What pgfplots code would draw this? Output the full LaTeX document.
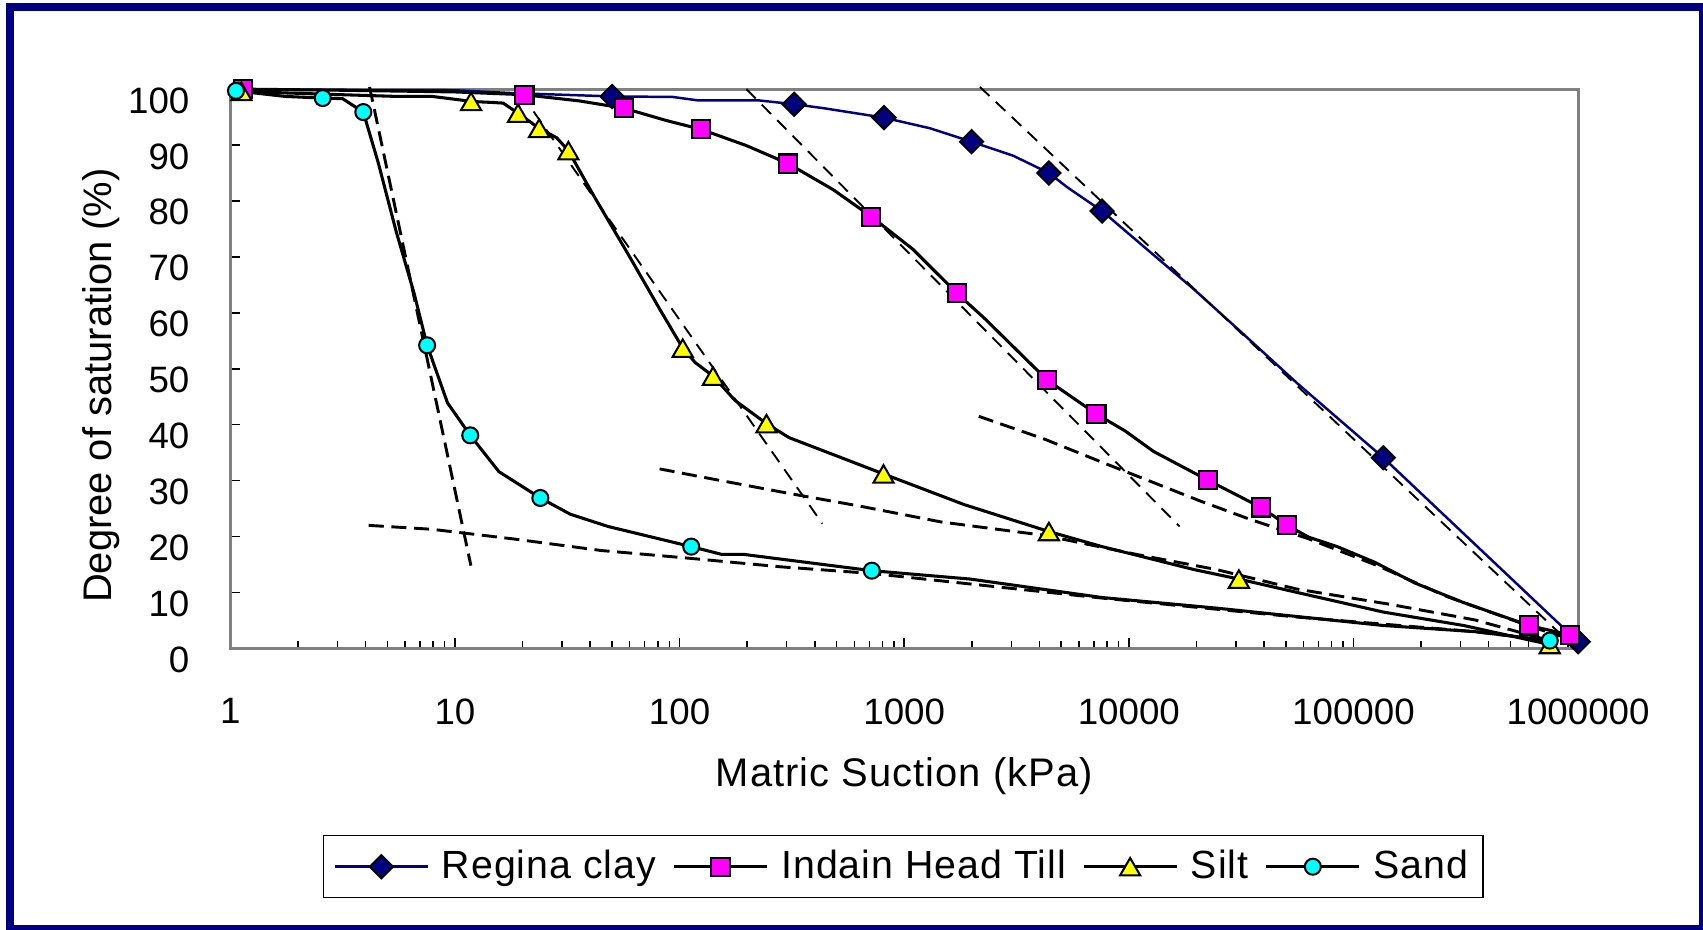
\documentclass[border=0pt]{standalone}
\usepackage{fontspec}
\setmainfont{Liberation Sans}
\usepackage{pgfplots}
\pgfplotsset{compat=1.18}

\definecolor{navy}{HTML}{000080}
\definecolor{axisgray}{HTML}{808080}
\definecolor{mag}{HTML}{FF00FF}
\definecolor{yel}{HTML}{FFFF00}
\definecolor{cya}{HTML}{00FFFF}

\pgfplotsset{
  curve/.style={black, line width=1.05pt, no marks, forget plot},
  thickdash/.style={black, line width=1pt, dash pattern=on 5.2pt off 2.6pt, no marks, forget plot},
  thindash/.style={black, line width=0.65pt, dash pattern=on 4.5pt off 3pt, no marks, forget plot},
  reginamk/.style={mark=square*, mark size=2.8pt, mark options={solid, rotate=45, fill=navy, draw=black, line width=0.7pt}},
  tillmk/.style={mark=square*, mark size=3.1pt, mark options={solid, fill=mag, draw=black, line width=0.7pt}},
  siltmk/.style={mark=triangle*, mark size=4pt, mark options={solid, yshift=-1pt, fill=yel, draw=black, line width=0.7pt}},
  sandmk/.style={mark=*, mark size=2.75pt, mark options={solid, fill=cya, draw=black, line width=0.7pt}},
}

\begin{document}
\begin{tikzpicture}
\useasboundingbox (-79.06pt,-96.33pt) rectangle (505.58pt,222.60pt);
\draw[navy, line width=2.75pt] (-75.63pt,-96.33pt) rectangle (505.58pt,220.12pt);

\begin{axis}[
    width=462.7pt, height=192pt, scale only axis,
    xmode=log,
    xmin=1, xmax=1000000, ymin=0, ymax=100,
    clip=false,
    xtick={1,10,100,1000,10000,100000,1000000},
    xticklabels={1,10,100,1000,10000,100000,1000000},
    minor xtick={2,3,4,5,6,7,8,9,20,30,40,50,60,70,80,90,
      200,300,400,500,600,700,800,900,2000,3000,4000,5000,6000,7000,8000,9000,
      20000,30000,40000,50000,60000,70000,80000,90000,
      200000,300000,400000,500000,600000,700000,800000,900000},
    ytick={0,10,20,30,40,50,60,70,80,90,100},
    yticklabels={0,10,20,30,40,50,60,70,80,90,100},
    tick align=inside, tick pos=left,
    major tick length=3.43pt, minor tick length=2.4pt,
    tick style={black, line width=0.5pt},
    axis line style={draw=axisgray, line width=1pt},
    ticklabel style={font=\fontsize{12.6}{14}\selectfont, inner sep=0pt},
    xticklabel style={anchor=north, yshift=-17pt},
    yticklabel style={anchor=east, xshift=-13.84pt, yshift=-3.9pt},
    xlabel={Matric Suction (kPa)},
    xlabel style={at={(axis description cs:0.5,-0.2473)}, anchor=base, inner sep=0pt,
      font=\fontsize{13.7}{16}\selectfont\addfontfeatures{LetterSpace=2.6}},
    ylabel={Degree of saturation (\%)},
    ylabel style={at={(axis description cs:-0.0958,0.470)}, anchor=center, inner sep=0pt,
      font=\fontsize{13.7}{16}\selectfont},
    legend columns=4,
    legend style={at={(axis description cs:0.4994,-0.3903)}, anchor=center,
      draw=black, line width=0.5pt, inner sep=3.4pt,
      font=\fontsize{13.5}{15}\selectfont\addfontfeatures{LetterSpace=2.5},
      nodes={inner sep=1.6pt},
      /tikz/every odd column/.append style={column sep=2.8pt},
      /tikz/every even column/.append style={column sep=4pt}},
    legend image code/.code={
      \draw[mark repeat=2, mark phase=2, #1] plot coordinates {(0pt,0pt) (15.95pt,0pt) (31.9pt,0pt)};
    },
  ]

% Regina clay
\addplot[navy, line width=0.85pt, no marks, forget plot] coordinates {
  (1,99.9) (10,99.8) (17.8,99.3) (50.1,98.7) (93.3,98.6) (120.2,98.0) (223.9,98.0)
  (323.6,97.3) (436.5,96.6) (812.8,94.9) (1303,93.0) (1995,90.6) (3055,88.1)
  (4406,85.0) (5346,82.4) (7603,78.2) (19500,64.2) (29440,57.7) (56230,47.4)
  (135800,34.1) (1000000,1.2)
};
% Indain Head Till
\addplot[curve] coordinates {
  (1.14,100.0) (3.16,99.8) (10,99.5) (20.4,99.0) (35.7,97.9) (56.5,96.6) (87.1,94.4)
  (125,92.8) (198.6,89.9) (304,86.7) (484,82.0) (714.5,77.2) (1091,71.4) (1718,63.5)
  (2280,59.0) (4325,48.0) (7178,41.9) (9616,38.9) (12910,35.2) (22440,30.1)
  (38820,25.2) (50820,22.0) (63100,19.9) (84700,18.2) (124500,15.4) (187500,11.7)
  (309000,8.2) (605300,4.1) (918400,2.4)
};
% Silt
\addplot[curve] coordinates {
  (1.12,99.6) (1.83,99.3) (5.48,98.7) (7.91,98.7) (10.4,98.1) (11.8,97.8) (15.0,97.6)
  (16.4,97.5) (19.1,95.7) (23.7,93.0) (28.4,91.3) (32.0,89.0) (41.0,81.3) (59.2,70.4)
  (81.5,60.7) (103.3,53.7) (117.5,51.1) (140.9,48.7) (177,44.3) (243.8,40.2)
  (306.9,37.7) (809,31.2) (1854,25.7) (4406,20.9) (7603,18.2) (19500,14.1)
  (30900,12.4) (56230,10.0) (135800,6.5) (309000,4.1) (748200,0.7)
};
% Sand
\addplot[curve] coordinates {
  (1.06,99.7) (1.75,98.7) (2.58,98.4) (3.16,98.3) (3.91,95.9) (4.56,86.8) (5.48,74.5)
  (6.58,63.5) (7.52,54.2) (9.27,43.9) (11.7,38.1) (15.7,31.6) (24.0,26.9) (32.6,24.0)
  (48.1,21.8) (112.7,18.2) (154.5,16.8) (194,16.8) (717.8,13.9) (1968,12.4)
  (7603,9.1) (24660,7.2) (56230,5.7) (135800,4.1) (346700,3.0) (748200,1.4)
};

% markers
\addplot[only marks, reginamk, forget plot] coordinates {
  (50.1,98.7) (323.6,97.3) (812.8,94.9) (1995,90.6) (4406,85.0) (7603,78.2)
  (135800,34.1) (1000000,1.2)
};
\addplot[only marks, tillmk, forget plot] coordinates {
  (1.14,100.0) (20.4,99.0) (56.5,96.6) (125,92.8) (304,86.7) (714.5,77.2) (1718,63.5)
  (4325,48.0) (7178,41.9) (22440,30.1) (38820,25.2) (50820,22.0) (605300,4.1)
  (918400,2.4)
};
\addplot[only marks, siltmk, forget plot] coordinates {
  (1.12,99.6) (11.8,97.8) (19.1,95.7) (23.7,93.0) (32.0,89.0) (103.3,53.7)
  (140.9,48.7) (243.8,40.2) (809,31.2) (4406,20.9) (30900,12.4) (748200,0.7)
};
\addplot[only marks, sandmk, forget plot] coordinates {
  (1.06,99.7) (2.58,98.4) (3.91,95.9) (7.52,54.2) (11.7,38.1) (24.0,26.9)
  (112.7,18.2) (717.8,13.9) (748200,1.4)
};

% construction lines
\addplot[thickdash] coordinates {(4.17,100.4) (11.78,14.8)};
\addplot[thickdash] coordinates {
  (4.13,22.0) (7.91,21.3) (18,19.6) (44.9,17.5) (112.2,16.1) (280,14.6) (718,13.4)
  (7603,9.0) (56230,5.6) (346700,3.0) (748200,1.4)
};
\addplot[thindash] coordinates {(19.7,99.2) (432.5,22.3)};
\addplot[thickdash] coordinates {
  (81.5,32.1) (131.5,30.5) (299,27.8) (643,25.4) (1466,22.6) (4227,20.2) (10840,16.8)
  (24550,14.1) (56230,10.6) (144500,7.9) (346700,5.1) (748200,1.4)
};
\addplot[thindash] coordinates {(198.5,100.0) (16830,21.8)};
\addplot[thickdash] coordinates {
  (2148,41.5) (4227,37.4) (7586,33.3) (20650,26.4) (35080,23.0) (63100,19.6)
  (127900,14.8) (259400,9.3) (626600,3.8) (955000,1.5)
};
\addplot[thindash] coordinates {(2173,100.4) (918400,1.0)};

% legend
\addlegendimage{navy, line width=0.85pt, reginamk}
\addlegendentry{Regina clay}
\addlegendimage{black, line width=1.05pt, tillmk}
\addlegendentry{Indain Head Till}
\addlegendimage{black, line width=1.05pt, siltmk}
\addlegendentry{Silt}
\addlegendimage{black, line width=1.05pt, sandmk}
\addlegendentry{Sand}
\end{axis}
\end{tikzpicture}
\end{document}
